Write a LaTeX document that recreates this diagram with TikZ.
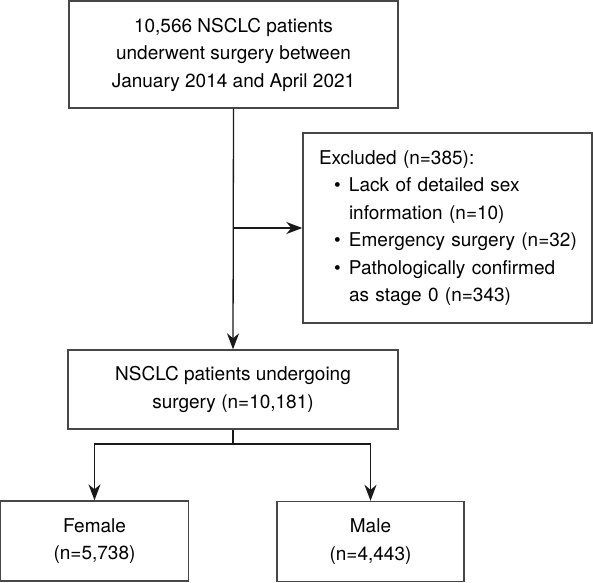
\documentclass[tikz,border=0pt]{standalone}
\usepackage{fontspec}
\setmainfont{TeX Gyre Heros}
\usetikzlibrary{arrows.meta}
\begin{document}
\begin{tikzpicture}[x=1pt,y=-1pt,
  box/.style={draw=black!72,line width=1.4pt,rectangle,inner sep=0pt,align=center,
    font=\fontsize{19}{27.5}\selectfont},
  conn/.style={draw=black!90,line width=1.3pt},
  arr/.style={conn,-{Stealth[length=16pt,width=12pt,inset=5pt]}}]
\useasboundingbox (0,0) rectangle (593,582);
\node[box,minimum width=329pt,minimum height=107pt] (top) at (233.5,54.5)
  {10,566 NSCLC patients\\underwent surgery between\\January 2014 and April 2021};
\node[box,minimum width=289pt,minimum height=190pt,text width=257pt,align=left,inner xsep=16pt] (ex) at (447.5,228)
  {\mbox{Excluded (n=385):}\\
   \mbox{\hspace*{15pt}\makebox[15pt][l]{\textbullet}Lack of detailed sex}\\
   \mbox{\hspace*{30pt}information (n=10)}\\
   \mbox{\hspace*{15pt}\makebox[15pt][l]{\textbullet}Emergency surgery (n=32)}\\
   \mbox{\hspace*{15pt}\makebox[15pt][l]{\textbullet}Pathologically confirmed}\\
   \mbox{\hspace*{30pt}as stage 0 (n=343)}};
\node[box,minimum width=330pt,minimum height=79pt] (mid) at (233,389.5)
  {NSCLC patients undergoing\\surgery (n=10,181)};
\node[box,minimum width=188pt,minimum height=80pt] (fem) at (94.5,541)
  {Female\\(n=5,738)};
\node[box,minimum width=187pt,minimum height=80pt] (male) at (370.5,541.5)
  {Male\\(n=4,443)};
\coordinate (j1) at (top.south |- ex.west);
\coordinate (j2) at (233,444);
\draw[arr] (top.south) -- (mid.north);
\draw[arr] (j1) -- (ex.west);
\draw[conn] (mid.south) -- (j2);
\draw[arr] (j2) -| (fem.north);
\draw[arr] (j2) -| (male.north);
\end{tikzpicture}
\end{document}
